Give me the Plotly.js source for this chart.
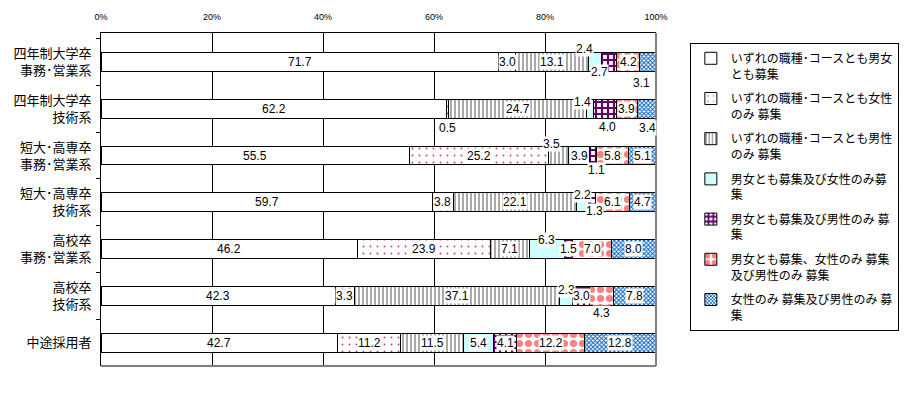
<!DOCTYPE html>
<html><head><meta charset="utf-8">
<script src="https://cdn.plot.ly/plotly-3.0.1.min.js"></script>
<style>html,body{margin:0;padding:0;background:#fff}#chart{width:911px;height:398px}</style>
</head><body><div id="chart"></div>
<script>
// ---- data ----
const categories = ["四年制大学卒<br>事務･営業系","四年制大学卒<br>技術系","短大･高専卒<br>事務･営業系","短大･高専卒<br>技術系","高校卒<br>事務･営業系","高校卒<br>技術系","中途採用者"];
const seriesNames = [
  "いずれの職種･コースとも男女<br>とも募集",
  "いずれの職種･コースとも女性<br>のみ 募集",
  "いずれの職種･コースとも男性<br>のみ 募集",
  "男女とも募集及び女性のみ募<br>集",
  "男女とも募集及び男性のみ 募<br>集",
  "男女とも募集、女性のみ 募集<br>及び男性のみ 募集",
  "女性のみ 募集及び男性のみ 募<br>集"
];
const s1 = [71.7, 62.2, 55.5, 59.7, 46.2, 42.3, 42.7];
const s2 = [3.0, 0.5, 25.2, 3.8, 23.9, 3.3, 11.2];
const s3 = [13.1, 24.7, 3.5, 22.1, 7.1, 37.1, 11.5];
const s4 = [2.4, 1.4, 3.9, 2.2, 6.3, 2.3, 5.4];
const s5 = [2.7, 4.0, 1.1, 1.3, 1.5, 3.0, 4.1];
const s6 = [4.2, 3.9, 5.8, 6.1, 7.0, 4.3, 12.2];
const s7 = [3.1, 3.4, 5.1, 4.7, 8.0, 7.8, 12.8];
const xTicks = [0, 20, 40, 60, 80, 100];

// ---- styles (not data) ----
const series = [s1, s2, s3, s4, s5, s6, s7];
const patterns = [
  {shape:"", bgcolor:"#ffffff", fgcolor:"#ffffff"},
  {shape:".", bgcolor:"#ffffff", fgcolor:"#d0406a", size:7, solidity:0.06},
  {shape:"|", bgcolor:"#ffffff", fgcolor:"#707070", size:4, solidity:0.3},
  {shape:"", bgcolor:"#ccffff", fgcolor:"#ccffff"},
  {shape:"+", bgcolor:"#ffffff", fgcolor:"#660066", size:6, solidity:0.6},
  {shape:".", bgcolor:"#ffffff", fgcolor:"#ff8080", size:9, solidity:0.5},
  {shape:"x", bgcolor:"#ffffff", fgcolor:"#0060c0", size:3, solidity:0.55}
];
const fills = ["#ffffff","#ffffff","#ffffff","#ccffff","#660066","#ff8080","#0066cc"];
// label nudges in pixels [dx, dy(down)] keyed "row,series"
const labelNudge = {
  "0,3":[-10,-13], "0,4":[-10,10], "0,6":[-7,21],
  "1,1":[0,19], "1,3":[-7,-7], "1,4":[3,18], "1,6":[0,19],
  "2,2":[-7,-12], "2,4":[3,14],
  "3,3":[0,-7], "3,4":[3,9],
  "4,3":[0,-9],
  "5,3":[0,-6], "5,5":[0,17]
};

const traces = series.map((vals, k) => ({
  type: "bar", orientation: "h", name: seriesNames[k],
  legendgroup: "g" + k,
  x: vals, y: categories,
  marker: {color: fills[k], line: {color: "#000", width: 1}, pattern: patterns[k]},
  hoverinfo: "skip"
}));

const annotations = [];
categories.forEach((c, i) => {
  let cum = 0;
  series.forEach((vals, k) => {
    const v = vals[i];
    const center = cum + v / 2;
    cum += v;
    const n = labelNudge[i + "," + k] || [0, 0];
    annotations.push({
      x: center, y: c, xref: "x", yref: "y",
      text: v.toFixed(1), showarrow: false,
      xshift: n[0], yshift: -n[1],
      bgcolor: "#ffffff", borderpad: 0,
      font: {family: "Liberation Sans, Arial, sans-serif", size: 12, color: "#000"}
    });
  });
});

const layout = {
  width: 911, height: 398,
  margin: {l: 101, r: 255, t: 33, b: 32},
  paper_bgcolor: "#fff", plot_bgcolor: "#fff",
  barmode: "stack", bargap: 0.596,
  font: {family: "Noto Sans CJK JP, sans-serif", color: "#000"},
  xaxis: {
    side: "top", range: [0, 100], tickvals: xTicks, ticktext: xTicks.map(v => v + "%"),
    showgrid: true, gridcolor: "#000", gridwidth: 1, zeroline: false,
    showline: true, linecolor: "#000", linewidth: 1, ticks: "",
    ticklabelstandoff: 8, automargin: false,
    tickfont: {family: "Liberation Sans, Arial, sans-serif", size: 9}, fixedrange: true
  },
  yaxis: {
    autorange: "reversed", showline: true, linecolor: "#000", linewidth: 1,
    ticks: "outside", tickson: "boundaries", ticklen: 4, tickcolor: "#000",
    showgrid: false, ticklabelstandoff: 6, automargin: false,
    tickfont: {family: "Noto Sans CJK JP, sans-serif", size: 13}, fixedrange: true
  },
  shapes: [
    {type: "line", xref: "paper", yref: "paper", x0: 1, x1: 1, y0: 0, y1: 1, line: {color: "#808080", width: 2}},
    {type: "line", xref: "paper", yref: "paper", x0: 0, x1: 1, y0: 0, y1: 0, line: {color: "#808080", width: 2}}
  ],
  legend: {
    x: 1.061, xanchor: "left", y: 0.97, yanchor: "top",
    bordercolor: "#000", borderwidth: 1, bgcolor: "#fff",
    traceorder: "grouped", tracegroupgap: 6, valign: "top",
    font: {family: "Noto Sans CJK JP, sans-serif", size: 12},
    itemwidth: 30
  },
  annotations: annotations,
  showlegend: true
};

Plotly.newPlot("chart", traces, layout, {displayModeBar: false, staticPlot: true});
</script>
</body></html>
